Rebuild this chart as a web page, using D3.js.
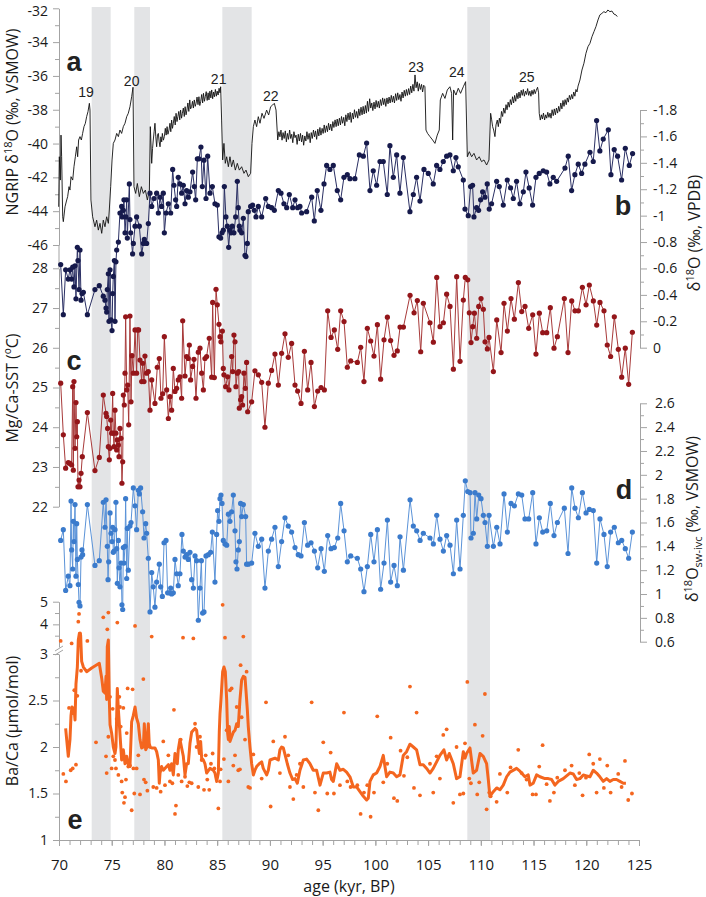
<!DOCTYPE html>
<html><head><meta charset="utf-8">
<script src="https://cdn.jsdelivr.net/npm/d3@7"></script>
<style>body{margin:0;background:#fff} svg{display:block}</style>
</head><body><svg id="chart" width="706" height="897"></svg>
<script>
// ---------- DATA (age kyr BP, value) ----------
const stadialBands = [[73.1,74.9],[77.14,78.63],[85.49,88.27],[108.72,110.87]];
const eventLabels = ["19","20","21","22","23","24","25"];
const eventAge = [72.56,76.89,85.14,90.08,103.86,107.71,114.35];
const eventVal = [-36.95,-36.3,-36.18,-37.17,-35.46,-35.75,-36.08];

const ngrip = [[69.97,-43.74],[70.03,-40.78],[70.13,-42.16],[70.19,-39.5],[70.25,-40.78],[70.35,-44.33],[70.41,-44.62],[70.57,-43.74],[70.73,-43.34],[70.82,-43.14],[70.95,-42.55],[71.04,-42.75],[71.14,-41.96],[71.3,-42.16],[71.42,-41.37],[71.55,-40.78],[71.68,-40.19],[71.77,-40.78],[71.86,-39.79],[71.99,-39.59],[72.12,-39.79],[72.24,-39.4],[72.37,-39.0],[72.5,-38.8],[72.62,-38.41],[72.75,-38.11],[72.88,-37.62],[72.94,-38.02],[73.03,-43.34],[73.19,-44.33],[73.41,-44.92],[73.57,-44.53],[73.73,-45.12],[73.89,-44.72],[74.05,-45.31],[74.2,-44.53],[74.36,-44.92],[74.52,-44.33],[74.68,-44.72],[74.77,-43.93],[74.9,-42.55],[75.03,-40.97],[75.15,-39.99],[75.31,-39.79],[75.47,-39.4],[75.63,-39.59],[75.78,-39.2],[75.94,-39.4],[76.1,-39.0],[76.26,-38.8],[76.42,-38.41],[76.57,-38.21],[76.73,-37.82],[76.89,-37.23],[77.02,-36.67],[77.11,-42.55],[77.27,-42.95],[77.43,-42.36],[77.62,-43.14],[77.81,-42.55],[78.0,-42.95],[78.19,-42.75],[78.38,-43.34],[78.57,-42.75],
[78.66,-39.0],[78.79,-41.17],[78.87,-40.3],[78.94,-39.79],[79.02,-39.3],[79.1,-38.8],[79.18,-39.6],[79.26,-40.19],[79.34,-39.5],[79.42,-39.4],[79.5,-39.9],[79.58,-40.19],[79.66,-39.6],[79.74,-39.9],[79.8,-39.4],[79.9,-39.8],[79.99,-39.59],[80.08,-39.1],[80.16,-39.5],[80.25,-39.0],[80.33,-39.45],[80.43,-39.2],[80.52,-38.8],[80.6,-39.3],[80.68,-38.61],[80.76,-39.1],[80.84,-38.8],[80.93,-38.4],[81.02,-38.9],[81.1,-38.21],[81.19,-38.7],[81.27,-38.41],[81.36,-38.1],[81.45,-38.6],[81.53,-38.02],[81.62,-38.5],[81.7,-38.21],[81.79,-37.9],[81.88,-38.4],[81.96,-37.82],[82.05,-38.3],[82.13,-38.02],[82.22,-37.6],[82.31,-38.1],[82.4,-37.42],[82.48,-37.95],[82.57,-37.82],[82.66,-37.5],[82.74,-37.9],[82.83,-37.42],[82.92,-37.8],[83.0,-37.62],[83.09,-37.25],[83.18,-37.7],[83.27,-37.23],[83.35,-37.75],[83.44,-37.5],[83.53,-37.1],[83.62,-37.6],[83.7,-37.03],[83.79,-37.5],[83.88,-37.2],[83.96,-36.93],[84.05,-37.45],[84.14,-37.0],[84.22,-37.42],[84.31,-36.9],[84.4,-37.3],[84.48,-36.83],[84.57,-37.35],[84.66,-36.95],[84.74,-37.23],[84.83,-36.8],[84.92,-37.2],[85.0,-36.9],[85.09,-37.13],[85.18,-36.73],[85.27,-37.0],[85.33,-36.64],
[85.42,-38.61],[85.52,-40.97],[85.64,-39.99],[85.77,-41.17],[85.9,-40.78],[86.06,-41.37],[86.21,-40.78],[86.37,-41.37],[86.53,-40.97],[86.72,-41.57],[86.91,-41.17],[87.1,-41.57],[87.32,-41.37],[87.54,-41.76],[87.73,-41.57],[87.95,-41.96],[88.17,-41.76],[88.3,-39.99],[88.43,-39.0],[88.58,-38.61],[88.74,-39.0],[88.9,-38.41],[89.06,-38.8],[89.25,-38.21],[89.44,-38.51],[89.69,-38.02],[89.88,-38.31],[90.07,-37.82],[90.26,-37.72],[90.42,-37.62],[90.58,-38.02],
[90.74,-39.79],[90.85,-39.3],[90.95,-39.6],[91.05,-39.2],[91.15,-39.8],[91.25,-39.35],[91.35,-39.7],[91.46,-39.25],[91.56,-39.9],[91.66,-39.4],[91.76,-39.75],[91.87,-39.2],[91.97,-39.7],[92.07,-39.45],[92.17,-39.95],[92.28,-39.3],[92.38,-39.65],[92.48,-39.5],[92.58,-40.05],[92.69,-39.45],[92.79,-39.85],[92.9,-39.4],[93.0,-39.9],[93.1,-39.5],[93.2,-40.1],[93.31,-39.55],[93.41,-39.85],[93.51,-39.3],[93.61,-39.75],[93.72,-39.4],[93.82,-39.95],[93.92,-39.35],[94.02,-39.7],[94.13,-39.2],[94.23,-39.6],[94.33,-39.25],[94.43,-39.75],[94.54,-39.15],[94.64,-39.55],[94.74,-39.05],[94.84,-39.5],[94.95,-39.1],[95.05,-39.4],[95.15,-38.9],[95.25,-39.35],[95.36,-38.95],[95.46,-39.3],[95.56,-38.8],[95.66,-39.2],[95.77,-38.85],[95.87,-39.25],[95.97,-38.7],[96.07,-39.05],[96.18,-38.6],[96.28,-39.0],[96.38,-38.55],[96.48,-38.95],[96.59,-38.5],[96.69,-38.9],[96.79,-38.4],[96.89,-38.8],[97.0,-38.45],[97.1,-38.95],[97.2,-38.3],[97.3,-38.7],[97.41,-38.2],[97.51,-38.6],[97.61,-38.15],[97.71,-38.75],[97.82,-38.2],[97.92,-38.55],[98.02,-38.0],[98.12,-38.45],[98.23,-38.1],[98.33,-38.5],[98.43,-37.95],[98.53,-38.35],[98.64,-37.85],[98.74,-38.3],[98.84,-37.8],[98.94,-38.25],[99.05,-37.75],[99.15,-38.2],[99.25,-37.5],[99.35,-38.1],[99.46,-37.35],[99.56,-37.9],[99.66,-37.6],[99.76,-38.05],[99.87,-37.55],[99.97,-37.95],[100.07,-37.45],[100.17,-37.85],[100.28,-37.5],[100.38,-37.9],[100.48,-37.4],[100.58,-37.75],[100.69,-37.3],[100.79,-37.7],[100.89,-37.35],[100.99,-37.8],[101.1,-37.3],[101.2,-37.65],[101.3,-37.25],[101.4,-37.6],[101.51,-37.15],[101.61,-37.55],[101.71,-37.2],[101.81,-37.6],[101.92,-37.05],[102.02,-37.45],[102.12,-37.0],[102.22,-37.4],[102.33,-37.1],[102.43,-37.5],[102.53,-36.95],[102.63,-37.3],[102.74,-36.85],[102.84,-37.2],[102.94,-36.8],[103.04,-37.15],[103.15,-36.75],[103.25,-37.1],[103.35,-36.6],[103.45,-37.0],[103.56,-36.5],[103.66,-36.9],[103.76,-35.94],[103.86,-36.7],[103.97,-36.35],[104.07,-36.9],[104.17,-36.45],[104.27,-36.8],[104.38,-36.5],[104.48,-36.95],[104.58,-36.55],[104.7,-36.64],
[104.8,-39.2],[104.95,-39.4],[105.18,-39.59],[105.43,-39.79],[105.65,-39.99],[105.87,-39.5],[106.06,-39.2],[106.16,-37.42],[106.38,-37.03],[106.6,-37.33],[106.82,-36.83],[107.07,-36.64],[107.23,-37.03],[107.33,-39.79],[107.42,-36.83],[107.64,-37.13],[107.86,-36.73],[108.08,-37.03],[108.34,-36.64],[108.56,-36.34],[108.72,-40.78],[108.91,-40.48],[109.13,-40.78],[109.35,-40.58],[109.6,-40.97],[109.85,-40.78],[110.07,-41.07],[110.3,-40.97],[110.55,-41.27],[110.77,-40.97],
[110.93,-38.21],[111.03,-38.6],[111.12,-39.0],[111.22,-39.2],[111.34,-39.59],[111.44,-38.9],[111.56,-38.61],[111.66,-39.0],[111.76,-38.5],[111.86,-38.8],[111.96,-38.1],[112.07,-38.4],[112.17,-37.9],[112.29,-38.21],[112.39,-37.7],[112.49,-38.0],[112.59,-37.55],[112.7,-37.85],[112.8,-37.4],[112.9,-37.7],[113.01,-37.23],[113.11,-37.6],[113.21,-37.15],[113.31,-37.5],[113.42,-37.03],[113.52,-37.35],[113.62,-36.95],[113.72,-37.3],[113.83,-36.85],[113.93,-37.15],[114.03,-36.8],[114.13,-37.2],[114.24,-36.9],[114.34,-37.1],[114.44,-36.75],[114.54,-37.15],[114.65,-36.9],[114.75,-37.2],[114.85,-36.85],[114.95,-37.1],[115.06,-36.8],[115.16,-37.05],[115.26,-36.85],[115.38,-36.67],[115.48,-37.0],[115.54,-38.21],[115.64,-38.61],[115.74,-38.3],[115.84,-38.55],[115.94,-38.2],[116.05,-38.6],[116.15,-38.3],[116.25,-38.5],[116.35,-38.15],[116.46,-38.45],[116.56,-38.2],[116.66,-38.5],[116.76,-38.0],[116.87,-38.35],[116.97,-37.95],[117.07,-38.3],[117.17,-37.9],[117.28,-38.2],[117.38,-37.8],[117.48,-38.1],[117.58,-37.6],[117.69,-37.95],[117.79,-37.45],[117.89,-37.8],[117.99,-37.4],[118.1,-37.7],[118.2,-37.3],[118.3,-37.55],[118.4,-37.15],[118.51,-37.4],[118.61,-37.1],[118.71,-37.35],[118.81,-36.95],[118.92,-37.2],[119.02,-36.8],[119.12,-36.95],[119.22,-36.6],
[119.4,-36.24],[119.59,-35.65],[119.78,-35.25],[119.97,-34.66],[120.16,-34.27],[120.35,-34.07],[120.54,-33.68],[120.73,-33.38],[120.92,-33.08],[121.11,-32.69],[121.29,-32.39],[121.48,-32.3],[121.67,-32.2],[121.86,-32.26],[122.05,-32.1],[122.24,-32.2],[122.43,-32.16],[122.62,-32.34],[122.81,-32.39],[122.94,-32.49]];

const benthicD18O = [[70.16,-0.63],[70.41,-0.25],[70.63,-0.59],[70.88,-0.52],[71.04,-0.59],[71.2,-0.52],[71.3,-0.61],[71.42,-0.46],[71.52,-0.62],[71.61,-0.37],[71.74,-0.76],[71.8,-0.66],[71.9,-0.44],[71.99,-0.74],[72.09,-0.36],[72.18,-0.41],[72.31,-0.42],[72.69,-0.25],[73.41,-0.44],[73.82,-0.47],[74.2,-0.39],[74.36,-0.36],[74.46,-0.3],[74.52,-0.27],[74.58,-0.44],[74.68,-0.56],[74.74,-0.2],[74.84,-0.59],[74.93,-0.21],[75.03,-0.13],[75.09,-0.41],[75.15,-0.54],[75.25,-0.66],[75.31,-0.2],[75.4,-0.65],[75.47,-0.74],[75.63,-0.8],[75.78,-1.02],[75.94,-1.07],[76.0,-0.99],[76.1,-1.04],[76.16,-1.12],[76.26,-0.87],[76.35,-0.99],[76.42,-1.12],[76.48,-0.83],[76.67,-1.24],[76.73,-0.97],[76.8,-0.87],[76.98,-0.71],[77.05,-0.79],[77.21,-0.92],[77.36,-0.99],[77.62,-0.92],[77.84,-0.71],[78.0,-0.79],[78.09,-0.82],[78.31,-0.79],[78.47,-0.94],[78.63,-1.17],[78.79,-1.07],[79.01,-1.13],[79.26,-1.17],[79.42,-1.02],[79.58,-1.14],[79.73,-1.07],[79.89,-1.17],[79.99,-0.87],[80.15,-1.02],[80.37,-1.09],[80.59,-1.02],[80.78,-1.35],[80.9,-1.23],[81.06,-1.12],[81.16,-1.07],[81.31,-1.29],[81.47,-1.24],[81.63,-1.17],[81.79,-1.23],[81.95,-1.09],[82.1,-1.19],[82.26,-1.14],[82.42,-1.18],[82.67,-1.33],[82.83,-1.22],[82.96,-1.12],[83.12,-1.43],[83.27,-1.43],[83.46,-1.52],[83.59,-1.22],[83.75,-1.42],[83.94,-1.13],[84.1,-1.45],[84.32,-1.17],[84.54,-1.22],[84.79,-1.09],[85.01,-1.08],[85.17,-0.84],[85.33,-0.83],[85.46,-0.87],[85.58,-0.89],[85.68,-1.22],[85.83,-0.99],[85.96,-0.92],[86.09,-0.76],[86.21,-0.89],[86.31,-0.87],[86.43,-0.92],[86.59,-0.87],[86.75,-0.99],[86.91,-1.26],[87.0,-1.06],[87.1,-0.92],[87.16,-0.89],[87.32,-0.87],[87.48,-0.98],[87.64,-0.7],[87.73,-0.69],[87.86,-0.79],[87.95,-1.03],[88.17,-1.07],[88.36,-1.08],[88.52,-1.04],[88.68,-0.99],[88.9,-1.07],[89.22,-0.99],[89.6,-1.13],[89.85,-1.07],[90.16,-1.06],[90.42,-1.04],[90.8,-1.19],[91.05,-1.17],[91.33,-1.09],[91.59,-1.06],[91.84,-1.16],[92.16,-1.06],[92.38,-1.12],[92.63,-1.06],[92.85,-1.07],[93.01,-1.02],[93.48,-1.03],[93.96,-1.14],[94.21,-0.96],[94.49,-1.19],[94.84,-1.04],[95.13,-1.24],[95.38,-1.38],[95.69,-1.35],[96.01,-1.38],[96.39,-1.19],[96.71,-1.12],[97.02,-1.29],[97.34,-1.31],[97.59,-1.28],[98.06,-1.28],[98.48,-1.46],[98.86,-1.45],[99.17,-1.55],[99.49,-1.19],[99.8,-1.34],[100.12,-1.23],[100.44,-1.41],[100.75,-1.41],[101.13,-1.16],[101.38,-1.53],[101.7,-1.29],[102.02,-1.46],[102.33,-1.17],[102.65,-1.44],[103.28,-1.03],[103.6,-1.16],[103.91,-1.29],[104.23,-1.11],[104.61,-1.35],[105.02,-1.32],[105.49,-1.24],[105.81,-1.38],[106.12,-1.35],[106.44,-1.41],[106.76,-1.45],[107.07,-1.46],[107.39,-1.34],[107.64,-1.44],[107.86,-1.37],[108.34,-1.27],[108.5,-1.05],[108.81,-1.0],[109.03,-1.22],[109.22,-1.23],[109.35,-0.99],[109.6,-1.06],[109.79,-1.04],[109.98,-1.12],[110.17,-1.18],[110.39,-1.14],[110.61,-1.24],[110.8,-1.05],[111.02,-1.09],[111.5,-1.26],[111.75,-1.22],[112.13,-1.08],[112.51,-1.27],[112.82,-1.21],[113.08,-1.13],[113.39,-1.26],[113.71,-1.09],[114.03,-1.18],[114.28,-1.33],[114.59,-1.21],[114.91,-1.08],[115.23,-1.29],[115.54,-1.32],[115.92,-1.34],[116.24,-1.33],[116.55,-1.24],[116.87,-1.29],[117.19,-1.26],[117.98,-1.36],[118.29,-1.45],[118.61,-1.19],[118.92,-1.31],[119.24,-1.39],[119.56,-1.32],[119.87,-1.39],[120.35,-1.48],[120.66,-1.41],[120.98,-1.72],[121.29,-1.49],[121.61,-1.58],[122.09,-1.65],[122.34,-1.31],[122.65,-1.5],[122.97,-1.45],[123.35,-1.27],[123.7,-1.51],[124.08,-1.38],[124.39,-1.47]];

const mgcaSST = [[70.16,25.11],[70.41,23.81],[70.63,22.97],[70.88,23.11],[71.04,23.09],[71.2,23.05],[71.3,25.02],[71.36,22.92],[71.42,25.15],[71.52,23.47],[71.61,24.62],[71.68,23.76],[71.74,24.14],[71.8,22.5],[71.9,22.67],[71.99,22.5],[72.09,22.84],[72.21,23.26],[72.69,24.37],[73.41,22.91],[73.82,23.24],[74.2,24.81],[74.46,24.35],[74.52,24.27],[74.61,23.97],[74.68,23.51],[74.77,23.18],[74.84,23.47],[74.9,24.18],[74.99,23.85],[75.09,24.85],[75.15,23.85],[75.22,23.51],[75.31,24.43],[75.4,23.85],[75.47,23.43],[75.53,23.68],[75.63,23.55],[75.69,23.26],[75.78,23.97],[75.88,23.72],[75.97,22.59],[76.04,23.13],[76.1,24.81],[76.19,24.56],[76.26,25.36],[76.32,26.78],[76.42,24.94],[76.51,25.06],[76.61,24.06],[76.73,26.8],[76.83,24.64],[76.92,25.8],[77.05,25.36],[77.21,26.45],[77.36,25.36],[77.46,26.45],[77.55,26.45],[77.68,25.69],[77.84,25.15],[77.93,25.61],[78.06,25.15],[78.15,25.79],[78.31,25.36],[78.47,25.4],[78.63,24.43],[78.79,25.19],[79.1,24.6],[79.32,25.51],[79.51,25.73],[79.67,24.73],[79.83,24.84],[79.99,26.28],[80.21,24.94],[80.37,24.22],[80.52,24.77],[80.68,24.43],[80.84,25.48],[81.0,24.9],[81.16,24.98],[81.31,25.19],[81.47,25.27],[81.63,24.73],[81.73,26.68],[81.95,25.29],[82.1,25.78],[82.26,25.73],[82.36,26.07],[82.48,25.19],[82.67,25.53],[82.8,25.71],[82.99,24.73],[83.21,25.89],[83.37,25.99],[83.53,25.36],[83.69,24.94],[83.84,25.73],[84.0,25.78],[84.25,26.24],[84.48,25.26],[84.57,27.14],[84.73,25.25],[84.89,27.47],[85.01,27.08],[85.17,26.59],[85.27,26.28],[85.36,26.15],[85.49,26.42],[85.58,25.48],[85.64,25.32],[85.8,25.02],[85.99,25.27],[86.12,24.94],[86.37,25.78],[86.47,25.4],[86.59,26.32],[86.69,26.15],[86.78,25.02],[86.91,25.36],[87.04,25.4],[87.1,24.48],[87.22,24.69],[87.32,24.77],[87.41,24.56],[87.54,25.36],[87.67,24.98],[87.79,25.63],[87.89,24.39],[88.27,24.64],[88.58,25.42],[88.9,25.32],[89.22,25.13],[89.53,24.0],[89.85,25.11],[90.16,25.43],[90.48,25.84],[90.8,25.06],[91.11,25.86],[91.43,26.35],[91.74,25.76],[92.06,26.11],[92.38,25.06],[92.63,24.91],[92.95,24.6],[93.27,25.91],[93.58,24.94],[93.9,25.63],[94.22,24.52],[94.53,24.91],[94.85,25.0],[95.16,24.94],[95.48,26.93],[95.8,26.26],[96.11,26.45],[96.43,25.96],[96.71,26.93],[97.03,26.66],[97.34,25.51],[97.66,25.67],[98.29,25.63],[98.61,26.01],[98.92,25.15],[99.24,26.49],[99.56,26.17],[99.87,25.79],[100.19,26.58],[100.5,25.21],[100.82,26.2],[101.14,26.77],[101.45,26.18],[101.77,25.81],[102.08,25.92],[102.34,26.52],[102.66,26.52],[103.29,27.32],[103.67,26.88],[103.98,27.19],[104.3,25.9],[104.55,27.12],[105.18,26.63],[105.5,26.14],[105.82,27.77],[106.13,26.53],[106.45,26.63],[106.76,27.35],[107.08,27.04],[107.4,25.46],[107.71,27.79],[108.03,25.66],[108.34,27.2],[108.53,27.77],[108.76,27.71],[108.91,26.88],[109.07,26.13],[109.23,26.53],[109.39,26.87],[109.61,26.24],[109.8,27.04],[110.02,27.24],[110.24,26.97],[110.4,26.15],[110.62,25.97],[110.78,26.26],[111.19,25.4],[111.51,26.7],[111.92,25.88],[112.2,27.12],[112.52,26.42],[112.86,27.24],[113.18,26.72],[113.56,27.64],[113.88,26.91],[114.19,27.04],[114.54,26.49],[114.92,26.83],[115.23,25.84],[115.55,26.87],[115.87,26.38],[116.25,26.38],[116.59,27.01],[116.94,25.99],[117.26,26.28],[117.92,27.24],[118.27,25.88],[118.62,27.18],[118.93,26.93],[119.25,26.93],[119.63,27.52],[119.98,27.08],[120.29,27.58],[120.67,27.18],[120.99,26.57],[121.3,27.14],[121.68,26.93],[121.99,26.07],[122.31,25.78],[122.66,26.78],[123.04,25.96],[123.36,25.26],[123.7,25.99],[124.02,25.08],[124.37,26.39]];

const d18Osw = [[70.16,1.45],[70.41,1.54],[70.63,1.03],[70.88,1.15],[71.04,1.07],[71.14,1.78],[71.2,1.37],[71.3,1.21],[71.36,1.61],[71.42,1.44],[71.52,1.75],[71.61,1.15],[71.68,1.59],[71.74,1.29],[71.83,1.08],[71.9,0.93],[71.99,0.9],[72.09,1.31],[72.18,1.37],[72.24,1.33],[72.69,1.75],[73.41,1.24],[73.82,1.28],[74.2,1.77],[74.36,1.56],[74.46,1.79],[74.58,1.4],[74.65,1.12],[74.71,1.27],[74.84,1.68],[74.93,1.51],[75.03,1.44],[75.09,1.56],[75.15,1.35],[75.22,1.36],[75.31,1.54],[75.4,1.77],[75.47,1.38],[75.53,1.09],[75.63,1.45],[75.69,1.22],[75.78,1.06],[75.88,1.26],[75.97,0.91],[76.04,0.87],[76.1,1.39],[76.16,1.26],[76.26,1.4],[76.32,1.8],[76.42,1.13],[76.48,1.55],[76.57,1.2],[76.73,1.57],[76.83,1.6],[77.05,1.89],[77.21,1.74],[77.36,1.54],[77.52,1.87],[77.62,1.84],[77.74,1.89],[77.93,1.69],[78.06,1.47],[78.22,1.59],[78.31,1.51],[78.47,1.3],[78.63,0.85],[78.79,1.18],[78.94,1.06],[79.1,0.89],[79.26,1.1],[79.51,1.25],[79.64,1.06],[79.8,0.98],[79.96,1.43],[80.15,1.45],[80.3,1.01],[80.46,1.01],[80.59,1.05],[80.68,1.0],[80.84,1.01],[81.0,1.29],[81.16,1.17],[81.31,1.07],[81.47,1.17],[81.66,1.5],[81.79,1.36],[81.95,1.31],[82.1,1.33],[82.26,1.29],[82.42,1.35],[82.58,1.12],[82.74,1.05],[82.9,1.32],[83.05,1.28],[83.21,0.78],[83.37,1.05],[83.5,1.28],[83.62,0.84],[83.75,0.85],[83.94,1.32],[84.16,1.33],[84.38,1.35],[84.54,1.52],[84.79,1.1],[84.95,1.5],[85.04,1.7],[85.17,1.61],[85.27,1.8],[85.36,1.83],[85.46,1.76],[85.58,1.45],[85.74,1.42],[85.9,1.41],[86.06,1.67],[86.21,1.61],[86.37,1.69],[86.53,1.83],[86.69,1.53],[86.78,1.27],[86.88,1.21],[87.0,1.37],[87.1,1.44],[87.22,1.76],[87.32,1.65],[87.48,1.75],[87.7,1.65],[87.79,1.25],[87.95,1.25],[88.27,1.26],[88.58,1.51],[88.9,1.4],[89.22,1.46],[89.53,1.05],[89.85,1.36],[90.16,1.46],[90.48,1.56],[90.8,1.23],[91.11,1.44],[91.43,1.64],[91.74,1.57],[92.06,1.52],[92.38,1.39],[92.69,1.33],[92.95,1.32],[93.27,1.6],[93.58,1.41],[93.9,1.43],[94.22,1.36],[94.53,1.22],[94.85,1.38],[95.16,1.19],[95.48,1.49],[95.8,1.38],[96.11,1.39],[96.43,1.47],[96.71,1.76],[97.03,1.53],[97.34,1.27],[97.66,1.32],[98.29,1.3],[98.61,1.21],[98.92,1.02],[99.24,1.23],[99.56,1.5],[99.87,1.27],[100.19,1.54],[100.5,1.04],[100.82,1.26],[101.14,1.62],[101.45,1.1],[101.77,1.24],[102.08,1.07],[102.34,1.48],[102.66,1.2],[103.29,1.79],[103.6,1.57],[103.92,1.53],[104.24,1.45],[104.55,1.51],[105.18,1.47],[105.5,1.42],[105.82,1.66],[106.13,1.46],[106.45,1.36],[106.76,1.49],[107.08,1.41],[107.4,1.17],[107.71,1.62],[108.03,1.21],[108.34,1.66],[108.53,1.95],[108.76,1.86],[108.98,1.85],[109.07,1.47],[109.29,1.51],[109.45,1.85],[109.61,1.63],[109.8,1.83],[110.02,1.8],[110.24,1.66],[110.4,1.6],[110.62,1.4],[110.78,1.66],[111.19,1.4],[111.51,1.56],[111.82,1.42],[112.2,1.84],[112.52,1.52],[112.86,1.76],[113.18,1.74],[113.56,1.84],[113.88,1.83],[114.19,1.63],[114.54,1.63],[114.92,1.85],[115.23,1.42],[115.55,1.64],[115.87,1.52],[116.25,1.53],[116.59,1.76],[116.94,1.49],[117.26,1.6],[117.92,1.72],[118.27,1.34],[118.62,1.89],[118.93,1.72],[119.25,1.64],[119.63,1.85],[119.98,1.68],[120.29,1.71],[120.67,1.7],[120.99,1.26],[121.3,1.63],[121.68,1.5],[121.99,1.23],[122.31,1.52],[122.66,1.56],[123.04,1.43],[123.36,1.45],[123.7,1.38],[124.02,1.3],[124.37,1.52]];

const baCaDots = [[70.16,3.27],[70.41,1.71],[70.66,1.63],[70.95,2.42],[71.11,1.75],[71.2,3.16],[71.3,1.77],[71.45,2.61],[71.61,1.81],[71.74,2.55],[71.83,4.12],[71.9,4.46],[71.99,3.6],[72.09,2.82],[72.69,3.27],[73.51,2.05],[74.2,4.31],[74.46,1.9],[74.52,1.72],[74.58,3.78],[74.68,4.52],[74.68,2.11],[74.84,2.54],[74.99,1.77],[75.09,2.41],[75.15,1.9],[75.31,1.86],[75.4,1.77],[75.47,2.3],[75.53,4.08],[75.63,1.7],[75.72,2.54],[75.78,2.43],[75.85,2.22],[75.94,1.63],[76.0,1.51],[76.1,2.42],[76.16,1.4],[76.26,1.46],[76.35,1.65],[76.42,2.15],[76.51,2.63],[76.57,1.79],[76.73,1.8],[76.89,1.32],[76.98,2.62],[77.05,1.77],[77.14,1.5],[77.21,3.93],[77.36,1.77],[77.52,1.91],[77.68,1.49],[77.84,2.01],[78.0,2.73],[78.06,1.65],[78.22,1.62],[78.38,1.53],[78.57,2.02],[78.79,3.46],[78.94,1.57],[79.26,1.56],[79.64,1.52],[79.89,2.06],[80.05,1.59],[80.37,1.91],[80.52,1.63],[80.75,1.61],[80.9,2.4],[81.0,1.28],[81.09,1.37],[81.31,1.7],[81.54,2.08],[81.63,1.63],[81.76,3.41],[81.95,1.68],[82.17,1.58],[82.36,1.62],[82.58,1.61],[82.74,3.38],[82.9,2.25],[83.05,2.0],[83.21,1.57],[83.37,2.11],[83.53,1.86],[83.75,1.54],[83.91,1.91],[84.06,1.65],[84.25,1.54],[84.41,1.82],[84.57,1.93],[84.73,1.77],[84.95,1.68],[85.11,1.34],[85.27,1.63],[85.33,1.76],[85.52,4.86],[85.64,1.87],[85.74,3.41],[85.9,2.18],[86.06,1.63],[86.21,2.61],[86.37,2.63],[86.53,1.8],[86.69,1.91],[86.85,2.43],[87.0,1.75],[87.16,1.76],[87.22,2.88],[87.32,2.32],[87.48,3.46],[87.64,2.08],[87.79,2.81],[87.95,1.57],[88.11,1.56],[88.43,1.92],[89.22,1.66],[89.63,2.48],[90.07,1.36],[90.32,2.06],[90.95,1.72],[91.43,2.11],[91.74,1.91],[91.9,1.57],[92.22,1.44],[92.53,1.7],[92.85,1.82],[93.17,1.57],[93.96,2.48],[94.27,1.51],[94.59,1.32],[95.06,2.05],[95.44,1.5],[95.76,1.94],[96.07,1.5],[96.64,1.59],[97.02,2.37],[97.34,1.63],[97.65,1.57],[98.29,1.59],[98.6,1.28],[98.92,1.51],[99.23,1.59],[99.55,1.25],[99.87,1.51],[100.18,2.33],[100.75,1.62],[101.13,1.82],[101.45,2.1],[101.76,1.45],[102.08,1.42],[102.39,1.96],[102.71,1.69],[103.03,1.89],[103.28,2.65],[103.66,1.56],[103.91,2.37],[104.23,1.48],[105.18,1.82],[105.49,1.51],[105.81,1.9],[106.12,1.66],[106.44,2.13],[106.76,2.19],[107.39,1.4],[107.7,2.0],[108.02,1.49],[108.34,1.5],[108.5,2.04],[108.72,2.7],[108.91,1.66],[109.06,1.61],[109.44,2.24],[109.66,1.49],[109.85,1.62],[110.17,2.12],[110.39,2.57],[110.55,1.33],[110.8,1.51],[110.93,1.47],[111.5,1.41],[111.81,1.71],[112.51,1.51],[112.82,1.78],[113.55,1.97],[113.87,1.72],[114.34,1.65],[114.91,1.49],[115.23,1.49],[115.54,1.79],[115.86,2.02],[116.24,1.6],[116.55,1.42],[116.93,1.51],[117.25,1.67],[117.98,1.75],[118.61,1.8],[118.92,1.59],[119.34,1.72],[119.65,1.48],[119.97,1.67],[120.28,1.92],[120.66,1.82],[120.98,1.51],[121.29,1.87],[121.67,1.56],[121.99,1.8],[122.31,1.51],[123.03,1.71],[123.35,1.57],[123.67,1.85],[123.98,1.43],[124.33,1.5]];

const baCaSmooth = [[70.63,2.2],[70.73,2.08],[70.88,1.9],[71.04,2.08],[71.14,2.34],[71.23,2.43],[71.36,2.36],[71.42,2.42],[71.52,2.29],[71.61,2.68],[71.74,2.86],[71.83,3.31],[71.93,3.6],[72.05,3.53],[72.15,2.92],[72.31,2.86],[72.62,2.81],[73.1,2.85],[73.82,2.9],[74.05,2.74],[74.2,2.6],[74.36,2.58],[74.46,2.76],[74.52,2.51],[74.58,3.01],[74.68,3.31],[74.77,2.51],[74.84,2.24],[74.99,2.15],[75.15,2.0],[75.31,1.93],[75.4,2.0],[75.53,2.63],[75.63,2.4],[75.72,2.25],[75.85,2.02],[75.94,1.86],[76.1,1.97],[76.26,1.82],[76.42,1.9],[76.57,1.81],[76.73,1.79],[76.89,2.27],[77.05,2.34],[77.21,2.43],[77.36,2.31],[77.52,2.25],[77.68,2.08],[77.84,1.99],[78.0,2.0],[78.09,2.25],[78.22,1.97],[78.31,1.99],[78.47,2.25],[78.57,2.0],[78.79,1.99],[79.1,1.99],[79.26,1.95],[79.42,1.86],[79.51,1.61],[79.58,1.72],[79.73,1.79],[79.89,1.75],[80.21,1.79],[80.37,1.81],[80.52,1.75],[80.68,1.82],[80.84,1.7],[81.0,1.93],[81.22,1.82],[81.31,1.97],[81.47,2.08],[81.63,1.99],[81.79,1.9],[81.95,1.7],[82.1,1.82],[82.26,1.82],[82.42,2.04],[82.58,2.16],[82.74,2.18],[82.9,2.2],[83.05,2.18],[83.21,2.02],[83.31,1.93],[83.43,2.06],[83.53,1.88],[83.69,1.86],[83.84,1.82],[84.0,1.72],[84.32,1.77],[84.63,1.75],[84.79,1.72],[84.95,1.63],[85.11,1.72],[85.2,2.16],[85.27,2.36],[85.36,2.51],[85.52,2.81],[85.64,2.86],[85.77,2.81],[85.9,2.51],[85.99,2.15],[86.06,2.08],[86.15,2.22],[86.21,2.06],[86.37,2.11],[86.53,2.16],[86.69,2.18],[86.85,2.25],[86.91,2.22],[87.0,2.22],[87.16,2.51],[87.32,2.72],[87.48,2.76],[87.64,2.75],[87.73,2.61],[87.86,2.4],[87.95,2.22],[88.11,2.0],[88.27,1.82],[88.43,1.7],[88.58,1.75],[88.74,1.79],[88.99,1.82],[89.22,1.84],[89.37,1.77],[89.69,1.7],[89.85,1.75],[90.01,1.86],[90.48,1.88],[90.8,1.86],[90.95,1.97],[91.11,2.0],[91.27,1.99],[91.52,1.88],[91.65,1.82],[91.9,1.72],[92.16,1.65],[92.38,1.66],[92.6,1.61],[92.85,1.75],[93.17,1.86],[93.48,1.87],[93.8,1.82],[94.11,1.75],[94.43,1.75],[94.75,1.59],[95.06,1.72],[95.38,1.72],[95.69,1.73],[95.85,1.65],[96.01,1.63],[96.33,1.82],[96.64,1.75],[96.96,1.76],[97.27,1.73],[97.59,1.68],[97.91,1.57],[98.22,1.57],[98.54,1.52],[98.86,1.47],[99.17,1.43],[99.33,1.45],[99.49,1.63],[99.8,1.7],[100.12,1.72],[100.44,1.79],[100.75,1.91],[100.91,1.79],[101.07,1.68],[101.38,1.73],[101.7,1.72],[102.02,1.68],[102.33,1.7],[102.65,1.91],[102.96,1.95],[103.28,2.03],[103.6,2.0],[103.91,1.97],[104.23,1.81],[104.54,1.81],[104.86,1.77],[105.18,1.72],[105.49,1.77],[105.81,1.84],[106.12,1.91],[106.5,1.97],[106.76,1.86],[107.01,1.93],[107.39,1.82],[107.7,1.66],[108.02,1.68],[108.34,1.95],[108.5,1.88],[108.65,1.93],[108.97,1.99],[109.28,1.72],[109.6,1.75],[109.92,1.93],[110.23,1.9],[110.55,1.82],[110.71,1.65],[110.86,1.47],[111.18,1.52],[111.5,1.56],[111.81,1.54],[112.13,1.59],[112.45,1.68],[112.76,1.73],[113.39,1.77],[113.71,1.74],[114.18,1.68],[114.5,1.7],[114.66,1.59],[114.97,1.61],[115.29,1.7],[115.61,1.68],[116.08,1.66],[116.4,1.66],[116.71,1.65],[117.03,1.59],[117.34,1.63],[117.82,1.66],[118.45,1.72],[118.77,1.71],[119.08,1.65],[119.4,1.66],[119.72,1.7],[120.03,1.69],[120.35,1.68],[120.66,1.75],[120.98,1.72],[121.29,1.68],[121.61,1.63],[121.93,1.66],[122.24,1.63],[122.56,1.65],[122.87,1.65],[123.19,1.63],[123.51,1.61],[123.76,1.61]];

// tick values / labels
const ageTicks = [70,75,80,85,90,95,100,105,110,115,120,125];
const ageMinor = d3.range(70,126,1);
const ngripTicks = [-46,-44,-42,-40,-38,-36,-34,-32];
const ngripMinor = [-45,-43,-41,-39,-37,-35,-33];
const benthicTicks = [-1.8,-1.6,-1.4,-1.2,-1,-0.8,-0.6,-0.4,-0.2,0];
const benthicMinor = [-1.7,-1.5,-1.3,-1.1,-0.9,-0.7,-0.5,-0.3,-0.1];
const sstTicks = [22,23,24,25,26,27,28];
const sstMinor = [22.5,23.5,24.5,25.5,26.5,27.5];
const swTicks = [0.6,0.8,1,1.2,1.4,1.6,1.8,2,2.2,2.4,2.6];
const swMinor = [0.7,0.9,1.1,1.3,1.5,1.7,1.9,2.1,2.3,2.5];
const baLowTicks = [1,1.5,2,2.5,3];
const baLowMinor = [1.25,1.75,2.25,2.75];
const baHighTicks = [4,5];
const baHighMinor = [3.5,4.5];

// ---------- DRAW ----------
const FONT = '"Open Sans", "Noto Sans", sans-serif';
const AX = "#a3a3a3";
const svg = d3.select("#chart");
const x = d3.scaleLinear([70,125],[59,639]);
const yA = d3.scaleLinear([-46,-32],[245,8.3]);
const yB = d3.scaleLinear([0,-1.8],[347.7,110]);
const yC = d3.scaleLinear([22,28],[506.7,268.3]);
const yD = d3.scaleLinear([0.6,2.6],[641.7,403.3]);
const yELow = d3.scaleLinear([1,3],[840,654]);
const yEHigh = d3.scaleLinear([3,5],[647,601.7]);
const yE = v => v <= 3 ? yELow(v) : yEHigh(v);

// bands
svg.append("g").selectAll("rect").data(stadialBands).join("rect")
  .attr("x", d => x(d[0])).attr("width", d => x(d[1]) - x(d[0]))
  .attr("y", 7).attr("height", 833).attr("fill", "#e3e4e6");

function styleAxis(g, size) {
  g.attr("font-family", FONT).attr("font-size", size || 14);
  g.select(".domain").attr("stroke", AX);
  g.selectAll(".tick line").attr("stroke", AX);
  g.selectAll(".tick text").attr("fill", "#1a1a1a");
}
function minor(g) { g.select(".domain").remove(); g.selectAll(".tick line").attr("stroke", AX); }
const fmt = d => String(d);

// left axes
const L = svg.append("g").attr("transform", "translate(59,0)");
L.append("g").call(d3.axisLeft(yA).tickValues(ngripTicks).tickFormat(fmt).tickSize(6).tickSizeOuter(0).tickPadding(5))
  .call(g => styleAxis(g))
  .call(g => g.selectAll(".tick text").filter(d => d === -32).attr("dy", "0.5em"));
L.append("g").call(d3.axisLeft(yA).tickValues(ngripMinor).tickFormat("").tickSize(4)).call(minor);
L.append("line").attr("x1",0).attr("x2",0).attr("y1",yA(-46)).attr("y2",yC(28)).attr("stroke",AX);
L.append("g").call(d3.axisLeft(yC).tickValues(sstTicks).tickFormat(fmt).tickSize(6).tickSizeOuter(0).tickPadding(5)).call(g => styleAxis(g));
L.append("g").call(d3.axisLeft(yC).tickValues(sstMinor).tickFormat("").tickSize(4)).call(minor);
L.append("g").call(d3.axisLeft(yELow).tickValues(baLowTicks).tickFormat(fmt).tickSize(6).tickSizeOuter(0).tickPadding(5)).call(g => styleAxis(g));
L.append("g").call(d3.axisLeft(yELow).tickValues(baLowMinor).tickFormat("").tickSize(4)).call(minor);
L.append("g").call(d3.axisLeft(yEHigh).tickValues(baHighTicks).tickFormat(fmt).tickSize(6).tickSizeOuter(0).tickPadding(5)).call(g => styleAxis(g));
L.append("g").call(d3.axisLeft(yEHigh).tickValues(baHighMinor).tickFormat("").tickSize(4)).call(minor);
// axis break marks
L.append("line").attr("x1",-4).attr("x2",4).attr("y1",yEHigh(3)+4).attr("y2",yEHigh(3)-1).attr("stroke",AX);
L.append("line").attr("x1",-4).attr("x2",4).attr("y1",yELow(3)+1).attr("y2",yELow(3)-4).attr("stroke",AX);

// right axes
const R = svg.append("g").attr("transform", "translate(640,0)");
R.append("g").call(d3.axisRight(yB).tickValues(benthicTicks).tickFormat(fmt).tickSize(7).tickSizeOuter(0).tickPadding(6)).call(g => styleAxis(g));
R.append("g").call(d3.axisRight(yB).tickValues(benthicMinor).tickFormat("").tickSize(4)).call(minor);
R.append("g").call(d3.axisRight(yD).tickValues(swTicks).tickFormat(fmt).tickSize(7).tickSizeOuter(0).tickPadding(8)).call(g => styleAxis(g));
R.append("g").call(d3.axisRight(yD).tickValues(swMinor).tickFormat("").tickSize(4)).call(minor);

// x axis
const B = svg.append("g").attr("transform", "translate(0,840)");
B.append("g").call(d3.axisBottom(x).tickValues(ageTicks).tickFormat(fmt).tickSize(6).tickSizeOuter(0).tickPadding(13)).call(g => styleAxis(g, 15));
B.append("g").call(d3.axisBottom(x).tickValues(ageMinor).tickFormat("").tickSize(5)).call(minor);

// series
const line = (ys) => d3.line().x(d => x(d[0])).y(d => ys(d[1]));
svg.append("path").datum(ngrip).attr("d", line(yA)).attr("fill","none").attr("stroke","#111").attr("stroke-width",0.9).attr("stroke-linejoin","round");

function dotted(data, ys, lc, dc, r) {
  const g = svg.append("g");
  g.append("path").datum(data).attr("d", line(ys)).attr("fill","none").attr("stroke",lc).attr("stroke-width",1);
  g.selectAll("circle").data(data).join("circle").attr("cx", d => x(d[0])).attr("cy", d => ys(d[1])).attr("r", r).attr("fill", dc);
}
dotted(benthicD18O, yB, "#2a2f63", "#161a4c", 2.6);
dotted(mgcaSST, yC, "#a83a3a", "#94161a", 2.6);
dotted(d18Osw, yD, "#5b93d8", "#3b7bcc", 2.6);

svg.append("g").selectAll("circle").data(baCaDots).join("circle")
  .attr("cx", d => x(d[0])).attr("cy", d => yE(d[1])).attr("r", 1.9).attr("fill", "#f4661f");
svg.append("path").datum(baCaSmooth).attr("d", d3.line().x(d => x(d[0])).y(d => yE(d[1])))
  .attr("fill","none").attr("stroke","#f4661f").attr("stroke-width",3).attr("stroke-linejoin","round");

// event labels
svg.append("g").selectAll("text").data(eventLabels).join("text")
  .attr("x", (d,i) => x(eventAge[i])).attr("y", (d,i) => yA(eventVal[i])).attr("dy","0.35em")
  .attr("text-anchor","middle").attr("font-family","'Liberation Sans', Arial, sans-serif").attr("font-size",14).attr("fill","#222")
  .text(d => d);

// panel letters
const letters = [["a",74,62],["b",623,206],["c",74,361],["d",624,490],["e",75,820]];
svg.append("g").selectAll("text").data(letters).join("text")
  .attr("x", d => d[1]).attr("y", d => d[2]).attr("dy","0.35em").attr("text-anchor","middle")
  .attr("font-family","'Liberation Sans', Arial, sans-serif").attr("font-weight","bold").attr("font-size",27).attr("fill","#222")
  .text(d => d[0]);

// axis titles
function title(tx, ty, parts) {
  const t = svg.append("text").attr("transform", `translate(${tx},${ty}) rotate(-90)`)
    .attr("text-anchor","middle").attr("font-family",FONT).attr("font-size",16).attr("fill","#1a1a1a");
  parts.forEach(p => {
    const s = t.append("tspan").text(p[0]);
    if (p[1] === "sup") s.attr("font-size",11).attr("dy",-6);
    if (p[1] === "sub") s.attr("font-size",11).attr("dy",4);
    if (p[1] === "back") s.attr("dy",6);
    if (p[1] === "backsub") s.attr("dy",-4);
  });
}
title(18, 122, [["NGRIP δ"],["18","sup"],["O (‰, VSMOW)","back"]]);
title(18, 388, [["Mg/Ca-SST (ºC)"]]);
title(18, 721, [["Ba/Ca (µmol/mol)"]]);
title(700, 233, [["δ"],["18","sup"],["O (‰, VPDB)","back"]]);
title(698, 519, [["δ"],["18","sup"],["O","back"],["sw-ivc","sub"],[" (‰, VSMOW)","backsub"]]);

svg.append("text").attr("x", x(97.5)).attr("y", 892).attr("text-anchor","middle")
  .attr("font-family",FONT).attr("font-size",16).attr("fill","#1a1a1a").text("age (kyr, BP)");
</script></body></html>
